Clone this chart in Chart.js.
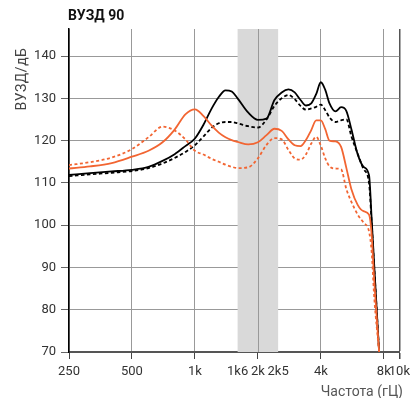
<!DOCTYPE html>
<html>
<head>
<meta charset="utf-8">
<script src="https://cdn.jsdelivr.net/npm/chart.js@4"></script>
<style>
  body { margin: 0; background: #fff; }
  #wrap { position: relative; width: 415px; height: 398px; }
  .txt { position: absolute; white-space: nowrap; color: #333; }
  #title { left: 68px; top: 7px; font: bold 14px Roboto, sans-serif; color: #111; line-height: 16px; }
  #ylabel { left: 21px; top: 79px; transform: translate(-50%, -50%) rotate(-90deg);
            font: 14px Roboto, sans-serif; color: #444; letter-spacing: 0.5px; }
  #xlabel { right: 12px; top: 384px; font: 14px Roboto, sans-serif; color: #555; line-height: 14px; }
</style>
</head>
<body>
<div id="wrap">
  <canvas id="chart" width="415" height="398"></canvas>
  <div class="txt" id="title">ВУЗД 90</div>
  <div class="txt" id="ylabel">ВУЗД/дБ</div>
  <div class="txt" id="xlabel">Частота (гЦ)</div>
</div>
<script>
// frequencies (Hz)
const freqs = [250, 315, 400, 500, 600, 700, 800, 900, 1000, 1100, 1200, 1300, 1400, 1500, 1600,
  1800, 2000, 2200, 2400, 2600, 2800, 3000, 3200, 3400, 3600, 3800, 4000, 4200, 4400, 4700,
  5000, 5300, 5600, 6000, 6400, 6800, 7000, 7200, 7600];

// output levels, dB
const blackSolid = [111.9, 112.3, 112.7, 113.1, 113.8, 115.2, 116.8, 118.7, 120.5, 123.8, 127.5, 130.3, 131.9, 131.6, 130.0,
  126.6, 124.9, 125.2, 129.6, 131.4, 132.1, 131.4, 129.6, 128.3, 128.8, 131.0, 133.8, 132.0, 128.8, 126.9,
  127.9, 127.0, 122.7, 116.8, 113.8, 111.8, 101.5, 90.5, 70];
const blackDashed = [111.6, 112.0, 112.4, 112.8, 113.5, 114.6, 115.9, 117.3, 118.9, 121.0, 123.0, 124.1, 124.4, 124.4, 124.1,
  123.4, 123.1, 125.0, 128.2, 130.0, 130.8, 129.8, 128.2, 127.3, 127.6, 128.0, 128.5, 127.2, 125.5, 124.4,
  124.8, 125.0, 121.0, 116.9, 113.3, 110.0, 100.5, 90, 70];
const orangeSolid = [113.4, 113.9, 114.7, 116.2, 117.6, 119.6, 122.6, 126.2, 127.4, 125.8, 123.6, 121.9, 120.8, 120.1, 119.7,
  119.1, 119.6, 121.3, 122.8, 122.3, 120.3, 118.9, 118.7, 120.2, 122.5, 124.8, 124.8, 122.7, 120.0, 119.8,
  118.5, 113.5, 108.5, 104.8, 103.3, 102.5, 97.8, 87, 70];
const orangeDashed = [114.2, 114.9, 116.0, 118.0, 120.8, 123.3, 122.4, 120.3, 117.6, 116.7, 115.7, 115.0, 114.3, 113.8, 113.5,
  113.7, 115.8, 119.0, 120.6, 120.3, 117.8, 115.8, 115.5, 116.8, 119.3, 120.9, 118.8, 115.8, 113.9, 113.4,
  113.2, 108.5, 105.5, 102.5, 100.6, 98.5, 93.7, 83, 70];

const xTicks = [250, 500, 1000, 1600, 2000, 2500, 4000, 8000, 9500];
const xTickLabels = ['250', '500', '1k', '1k6', '2k', '2k5', '4k', '8k', '10k'];
const noGridAt = [1600, 2500];   // labelled edges of the band, no grid line there
const bandFrom = 1600;
const bandTo = 2500;
const xMin = 250;
const xMax = 9500;
const yMin = 70;
const yMax = 146.4;

const ORANGE = '#f26532';
const tickFont = { family: 'Roboto, sans-serif', size: 13 };

function toPoints(vals) {
  return freqs.map((f, i) => ({ x: f, y: vals[i] }));
}

/*
*   grey band between bandFrom and bandTo, drawn over the grid,
*   then the x grid lines that fall inside it are put back on top
*/
const bandPlugin = {
  id: 'band',
  beforeDatasetsDraw(chart) {
    const { ctx, chartArea, scales: { x } } = chart;
    const x0 = x.getPixelForValue(bandFrom);
    const x1 = x.getPixelForValue(bandTo);
    ctx.save();
    ctx.fillStyle = '#d9d9d9';
    ctx.fillRect(x0, chartArea.top, x1 - x0, chartArea.bottom - chartArea.top);
    ctx.strokeStyle = '#999';
    ctx.lineWidth = 1;
    x.ticks.forEach(t => {
      if (t.value > bandFrom && t.value < bandTo) {
        const px = Math.round(x.getPixelForValue(t.value)) + 0.5;
        ctx.beginPath();
        ctx.moveTo(px, chartArea.top);
        ctx.lineTo(px, chartArea.bottom);
        ctx.stroke();
      }
    });
    ctx.restore();
  }
};

function line(label, vals, color, dash) {
  return {
    label: label,
    data: toPoints(vals),
    borderColor: color,
    borderWidth: 1.8,
    borderDash: dash,
    pointRadius: 0,
    fill: false,
    cubicInterpolationMode: 'monotone'
  };
}

new Chart(document.getElementById('chart'), {
  type: 'line',
  data: {
    datasets: [
      line('orange dashed', orangeDashed, ORANGE, [3, 2.5]),
      line('orange', orangeSolid, ORANGE, []),
      line('black dashed', blackDashed, '#000', [3.5, 2.5]),
      line('black', blackSolid, '#000', [])
    ]
  },
  options: {
    responsive: false,
    animation: false,
    layout: { padding: { top: 29, right: 14, left: 0, bottom: 0 } },
    plugins: {
      legend: { display: false },
      tooltip: { enabled: false }
    },
    scales: {
      x: {
        type: 'logarithmic',
        min: xMin,
        max: xMax,
        afterBuildTicks: scale => {
          scale.ticks = xTicks.map(v => ({ value: v }));
        },
        afterFit: scale => { scale.height = 46; },
        ticks: {
          autoSkip: false,
          maxRotation: 0,
          padding: 5,
          color: '#333',
          font: tickFont,
          callback: (v, i) => xTickLabels[i]
        },
        grid: {
          color: ctx => {
            const v = ctx.tick ? ctx.tick.value : null;
            if (noGridAt.includes(v)) return 'rgba(0,0,0,0)';
            return v === xMax ? '#555' : '#999';
          },
          tickColor: ctx => {
            const v = ctx.tick ? ctx.tick.value : null;
            return noGridAt.includes(v) ? 'rgba(0,0,0,0)' : '#444';
          },
          lineWidth: ctx => (ctx.tick && ctx.tick.value === xMax ? 1.5 : 1),
          tickLength: 7
        },
        border: { color: '#555', width: 2 }
      },
      y: {
        min: yMin,
        max: yMax,
        afterFit: scale => { scale.width = 69; },
        ticks: {
          stepSize: 10,
          includeBounds: false,
          padding: 5,
          color: '#333',
          font: tickFont
        },
        grid: { color: '#999', tickColor: '#666', tickLength: 8 },
        border: { color: '#000', width: 1.5 }
      }
    }
  },
  plugins: [bandPlugin]
});
</script>
</body>
</html>
